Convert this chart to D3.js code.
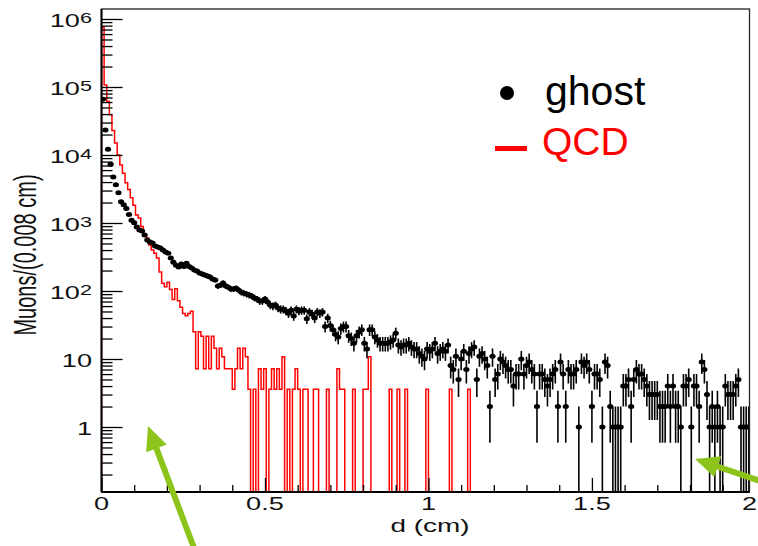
<!DOCTYPE html>
<html><head><meta charset="utf-8">
<script src="https://cdn.jsdelivr.net/npm/d3@7"></script>
<style>body{margin:0;background:#fff}svg{display:block}</style>
</head><body>
<svg id="c" width="758" height="546"></svg>
<script>
// ---------------- data ----------------
const binWidth = 0.008; // cm
const ghostCounts = [
66000,23300,12200,7300,4750,3640,2790,2060,1860,1630,
1330,1100,1010,870,790,760,665,560,525,510,
460,445,430,400,375,360,305,265,240,225,
250,230,255,230,218,203,197,184,178,172,
166,160,150,145,118,122,131,118,114,107,
107,110,103,96,93,90,87,84,79,76,
71,71,76,69,62,60,62,56,54,54,
51,47,52,43,54,51,52,52,39,49,
46,40,49,47,49,30,40,31,27,23,
21,28,30,30,22,20,17,22,25,27,
17,14,27,27,21,19,17,17,17,17,
18,19,24,16,15,16,16,17,15,14,
14,12,11,10,14,13,14,17,12,13,
14,13,16,8,7,11,5,10,13,7,
12,14,15,5,11,12,10,8,2,11,
5,6,10,9,8,7,7,4,6,6,
10,6,8,9,7,6,2,6,6,5,
4,5,6,7,2,9,6,2,7,6,
6,7,1,9,8,9,7,2,6,6,
5,1,9,8,2,1,1,1,1,4,
4,5,2,5,7,6,6,5,4,3,
3,3,3,2,2,2,4,2,4,2,
2,1,4,4,5,1,4,4,2,9,
7,3,1,2,1,2,1,1,4,3,
3,3,4,5,1,1,1,1,1,1
];
const qcdValues = [
750000,107000,61000,39000,23000,15000,10000,7100,5400,3900,
3100,2350,1830,1310,1180,890,650,600,475,400,
360,305,190,130,115,135,105,75,108,72,
57.6,46.8,43.2,46.8,50.4,25.2,7.2,25.2,21.6,7.2,
21.6,7.2,21.6,14.4,7.2,14.4,10.8,7.2,7.2,7.2,
3.6,7.2,14.4,7.2,14.4,10.8,3.6,0,3.6,0,
7.2,3.6,7.2,0,3.6,7.2,3.6,7.2,3.6,10.8,
0,3.6,0,3.6,7.2,3.6,0,3.6,3.6,0,
0,3.6,3.6,0,0,0,3.6,0,0,0,
7.2,3.6,3.6,0,0,0,3.6,0,0,0,
3.6,3.6,10.8,0,0,0,0,0,0,0,
3.6,0,0,3.6,0,0,3.6,0,0,0,
0,0,0,0,3.6,0,0,0,0,0,
0,0,0,3.6,0,0,0,0,0,0,3.6
];
const xTickValues = [0, 0.5, 1, 1.5, 2];
const xTickLabels = ["0", "0.5", "1", "1.5", "2"];
const yTickValues = [1, 10, 100, 1e3, 1e4, 1e5, 1e6];
const yTickBase = ["1", "10", "10", "10", "10", "10", "10"];
const yTickExp = ["", "", "2", "3", "4", "5", "6"];
const legendLabels = ["ghost", "QCD"];
const xTitle = "d (cm)";
const yTitle = "Muons/(0.008 cm)";

// ---------------- layout ----------------
const F = {left: 101.5, right: 749.5, top: 9, bottom: 492};
const SX = 1.55; // horizontal stretch of the original plot text
const FONT = "'Liberation Sans', Arial, Helvetica, sans-serif";
const svg = d3.select("#c");

const x = d3.scaleLinear().domain([0, 1.982]).range([F.left, F.right]);
const y = d3.scaleLog().domain([0.1107, 1.403e6]).range([F.bottom, F.top]);

svg.append("defs").append("clipPath").attr("id", "fr")
  .append("rect").attr("x", F.left).attr("y", F.top)
  .attr("width", F.right - F.left).attr("height", F.bottom - F.top);

const plot = svg.append("g").attr("clip-path", "url(#fr)");

// QCD histogram (step line)
const yv = v => v > 0 ? y(v) : F.bottom + 2;
let pts = [[x(0), F.bottom + 2]];
qcdValues.forEach((v, i) => {
  const lo = x(i * binWidth), hi = x((i + 1) * binWidth);
  pts.push([lo, yv(v)], [hi, yv(v)]);
});
const lastX = x(qcdValues.length * binWidth);
pts.push([lastX, F.bottom + 2], [F.right + 5, F.bottom + 2]);
plot.append("path").attr("d", d3.line()(pts))
  .attr("fill", "none").attr("stroke", "#ff0000").attr("stroke-width", 1.5)
  .attr("stroke-linejoin", "miter");

// ghost points with Poisson error bars
const gg = plot.append("g");
ghostCounts.forEach((n, i) => {
  if (n <= 0) return;
  const lo = i * binWidth, hi = (i + 1) * binWidth, c = (lo + hi) / 2;
  const e = Math.sqrt(n);
  const yTop = y(n + e);
  const yBot = (n - e) > 0.05 ? y(n - e) : F.bottom + 2;
  gg.append("line").attr("x1", x(c)).attr("x2", x(c)).attr("y1", yTop).attr("y2", yBot)
    .attr("stroke", "#000").attr("stroke-width", 1.6);
  gg.append("line").attr("x1", x(lo) - 0.5).attr("x2", x(hi) + 0.5).attr("y1", y(n)).attr("y2", y(n))
    .attr("stroke", "#000").attr("stroke-width", 1.6);
  gg.append("ellipse").attr("cx", x(c)).attr("cy", y(n)).attr("rx", 3.1).attr("ry", 2.5)
    .attr("fill", "#000");
});

// ---------------- axes ----------------
const yMinor = [];
for (let p = -1; p <= 6; p++) for (let m = 2; m <= 9; m++) {
  const v = m * Math.pow(10, p);
  if (v >= y.domain()[0] && v <= y.domain()[1]) yMinor.push(v);
}
svg.append("g").attr("transform", `translate(${F.left},0)`)
  .call(d3.axisRight(y).tickValues(yMinor).tickSize(11).tickFormat(""))
  .call(g => g.select(".domain").remove())
  .call(g => g.selectAll("line").attr("stroke", "#000").attr("stroke-width", 1.3));
svg.append("g").attr("transform", `translate(${F.left},0)`)
  .call(d3.axisRight(y).tickValues(yTickValues).tickSize(21).tickFormat(""))
  .call(g => g.select(".domain").remove())
  .call(g => g.selectAll("line").attr("stroke", "#000").attr("stroke-width", 1.3));

const xMinor = d3.range(1, 20).map(k => k / 10).filter(v => Math.abs(v * 2 - Math.round(v * 2)) > 1e-6);
svg.append("g").attr("transform", `translate(0,${F.bottom})`)
  .call(d3.axisTop(x).tickValues(xMinor).tickSize(7).tickFormat(""))
  .call(g => g.select(".domain").remove())
  .call(g => g.selectAll("line").attr("stroke", "#000").attr("stroke-width", 1.3));
svg.append("g").attr("transform", `translate(0,${F.bottom})`)
  .call(d3.axisTop(x).tickValues(xTickValues.filter(v => v <= x.domain()[1])).tickSize(14).tickFormat(""))
  .call(g => g.select(".domain").remove())
  .call(g => g.selectAll("line").attr("stroke", "#000").attr("stroke-width", 1.3));

// frame
svg.append("rect").attr("x", F.left).attr("y", F.top)
  .attr("width", F.right - F.left).attr("height", F.bottom - F.top)
  .attr("fill", "none").attr("stroke", "#222").attr("stroke-width", 1.3);
svg.append("line").attr("x1", F.left).attr("x2", F.left).attr("y1", F.top).attr("y2", F.bottom)
  .attr("stroke", "#000").attr("stroke-width", 2);
svg.append("line").attr("x1", F.left).attr("x2", F.right).attr("y1", F.bottom).attr("y2", F.bottom)
  .attr("stroke", "#000").attr("stroke-width", 2);

// Y tick labels
yTickValues.forEach((v, i) => {
  const t = svg.append("g").attr("transform", `translate(92,${y(v) + 8}) scale(${SX},1)`)
    .append("text").attr("text-anchor", "end").attr("font-family", FONT)
    .attr("font-size", 17.5).attr("fill", "#111");
  t.append("tspan").text(yTickBase[i]);
  if (yTickExp[i]) t.append("tspan").attr("dy", -4).attr("font-size", 14).text(yTickExp[i]);
});
// X tick labels (last one kept inside the picture)
xTickValues.forEach((v, i) => {
  svg.append("g").attr("transform", `translate(${Math.min(x(v), 749.5)},510) scale(${SX},1)`)
    .append("text").attr("text-anchor", "middle").attr("font-family", FONT)
    .attr("font-size", 17.5).attr("fill", "#111").text(xTickLabels[i]);
});
// Axis titles
svg.append("g").attr("transform", `translate(430,532) scale(${SX},1)`)
  .append("text").attr("text-anchor", "middle").attr("font-family", FONT)
  .attr("font-size", 18).attr("fill", "#111").text(xTitle);
svg.append("g").attr("transform", `translate(36,255) scale(${SX},1) rotate(-90)`)
  .append("text").attr("text-anchor", "middle").attr("font-family", FONT)
  .attr("font-size", 20).attr("fill", "#111").text(yTitle);

// ---------------- legend ----------------
svg.append("circle").attr("cx", 507).attr("cy", 93).attr("r", 7).attr("fill", "#000");
svg.append("text").attr("x", 545).attr("y", 105).attr("font-family", FONT)
  .attr("font-size", 41).attr("fill", "#000").text(legendLabels[0]);
svg.append("rect").attr("x", 495).attr("y", 146).attr("width", 32).attr("height", 5).attr("fill", "#ff0000");
svg.append("text").attr("x", 542).attr("y", 155).attr("font-family", FONT)
  .attr("font-size", 39).attr("fill", "#ff0000").text(legendLabels[1]);

// ---------------- annotation arrows ----------------
function arrow(x1, y1, x2, y2, w, hl, hw, col) {
  const dx = x2 - x1, dy = y2 - y1, L = Math.hypot(dx, dy);
  const ux = dx / L, uy = dy / L, px = -uy, py = ux;
  const bx = x2 - ux * hl, by = y2 - uy * hl;
  svg.append("line").attr("x1", x1).attr("y1", y1).attr("x2", bx + ux * 2).attr("y2", by + uy * 2)
    .attr("stroke", col).attr("stroke-width", w);
  svg.append("polygon").attr("points",
    `${x2},${y2} ${bx + px * hw / 2},${by + py * hw / 2} ${bx - px * hw / 2},${by - py * hw / 2}`)
    .attr("fill", col);
}
arrow(197, 556, 148, 426, 6, 24, 22, "#8cc41c");
arrow(790, 491, 695, 459, 6, 24, 22, "#8cc41c");
</script>
</body></html>
